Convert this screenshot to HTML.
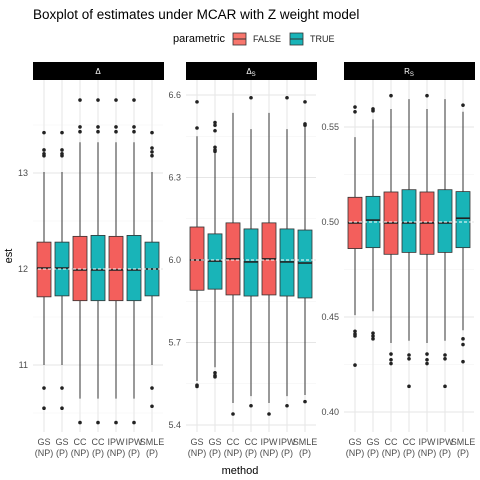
<!DOCTYPE html>
<html><head><meta charset="utf-8"><style>
body{margin:0;background:#fff;}
svg{display:block;font-family:"Liberation Sans",sans-serif;}
</style></head><body>
<svg id="c" width="480" height="480" viewBox="0 0 480 480">
<text x="33" y="19" font-size="13.5" fill="#000">Boxplot of estimates under MCAR with Z weight model</text>
<g>
<text x="173" y="42" font-size="11" fill="#000">parametric</text>
<g><rect x="233" y="33" width="13" height="12" fill="#F8766D" stroke="#333" stroke-width="0.8"/><line x1="233" y1="39" x2="246" y2="39" stroke="#333"/><text x="253" y="42" font-size="9" fill="#222">FALSE</text></g>
<g><rect x="290" y="33" width="13" height="12" fill="#19B4B8" stroke="#333" stroke-width="0.8"/><line x1="290" y1="39" x2="303" y2="39" stroke="#333"/><text x="310" y="42" font-size="9" fill="#222">TRUE</text></g>
</g>
<text x="240" y="474" font-size="11" text-anchor="middle" fill="#000">method</text>
<text transform="translate(12,256) rotate(-90)" font-size="11" text-anchor="middle" fill="#000">est</text>
</svg>
<script>
const categories=["GS (NP)","GS (P)","CC (NP)","CC (P)","IPW (NP)","IPW (P)","SMLE (P)"];
const parametric=[false,true,false,true,false,true,true];
const panelTitles=["Δ","ΔS","RS"];
const truth=[12,6.0,0.5];
const statsDelta=[[11.0,11.71,12.01,12.28,13.01],[11.0,11.72,12.01,12.28,13.01],[10.65,11.67,11.99,12.34,13.32],[10.65,11.67,11.99,12.35,13.32],[10.65,11.67,11.99,12.34,13.32],[10.65,11.67,11.99,12.35,13.32],[11.0,11.72,12.0,12.28,13.01]];
const outDelta=[[13.42,13.24,13.2,13.18,10.76,10.55],[13.42,13.24,13.2,13.18,10.76,10.55],[13.76,13.48,13.43,10.4],[13.76,13.48,13.43,10.4],[13.76,13.48,13.43,10.4],[13.76,13.48,13.43,10.4],[13.42,13.26,13.22,13.18,10.76,10.57]];
const statsDeltaS=[[5.56,5.89,6.0,6.12,6.45],[5.61,5.894,5.996,6.095,6.393],[5.48,5.873,6.004,6.135,6.535],[5.505,5.869,5.993,6.113,6.476],[5.48,5.873,6.004,6.135,6.535],[5.505,5.869,5.993,6.113,6.476],[5.509,5.862,5.989,6.109,6.484]];
const outDeltaS=[[6.575,6.48,5.545,5.54],[6.5,6.49,6.47,6.41,6.4,6.395,5.59,5.58,5.575],[5.44],[6.59,5.47],[5.44],[6.59,5.47],[6.575,6.495,6.49,5.485]];
const statsRS=[[0.451,0.486,0.4995,0.513,0.5447],[0.453,0.4865,0.501,0.5135,0.554],[0.4363,0.483,0.4995,0.5158,0.5595],[0.4375,0.484,0.4995,0.517,0.5647],[0.4363,0.483,0.4995,0.5158,0.5595],[0.4375,0.484,0.4995,0.517,0.5647],[0.443,0.4865,0.502,0.516,0.558]];
const outRS=[[0.5605,0.558,0.4425,0.441,0.44,0.4247],[0.5595,0.5585,0.4415,0.44,0.4385],[0.5665,0.4305,0.4275,0.4255],[0.43,0.428,0.4135],[0.5665,0.4305,0.4275,0.4255],[0.43,0.428,0.4135],[0.5615,0.4385,0.4355,0.4265]];
const ticksDelta=[11,12,13], ticksDeltaS=[5.4,5.7,6.0,6.3,6.6], ticksRS=[0.40,0.45,0.50,0.55];
const tickLabelsDelta=["11","12","13"], tickLabelsDeltaS=["5.4","5.7","6.0","6.3","6.6"], tickLabelsRS=["0.40","0.45","0.50","0.55"];

const NS="http://www.w3.org/2000/svg";
const svg=document.getElementById('c');
function mk(t,a,p){const e=document.createElementNS(NS,t);for(const k in a)e.setAttribute(k,a[k]);(p||svg).appendChild(e);return e;}
const panels=[
 {x0:33,stats:statsDelta,outs:outDelta,ticks:ticksDelta,labels:tickLabelsDelta,yA:12,pA:269,sc:96},
 {x0:186,stats:statsDeltaS,outs:outDeltaS,ticks:ticksDeltaS,labels:tickLabelsDeltaS,yA:6.0,pA:260,sc:275},
 {x0:344,stats:statsRS,outs:outRS,ticks:ticksRS,labels:tickLabelsRS,yA:0.5,pA:222,sc:1900}
];
const pTop=80,pBot=432,W=130;
panels.forEach((P,pi)=>{
 const g=mk('g',{});
 
 
 const y=v=>P.pA-(v-P.yA)*P.sc;
 const x=i=>P.x0+11+i*18;
 const step=P.ticks[1]-P.ticks[0];
 for(let k=-1;k<P.ticks.length+1;k++){
   const v=P.ticks[0]+(k+0.5)*step; const yy=y(v);
   if(yy>pTop&&yy<pBot){const l=mk('line',{x1:P.x0,x2:P.x0+W,y1:yy,y2:yy,stroke:'#f2f2f2','stroke-width':0.6},g);
   
   }
 }
 P.ticks.forEach((v,k)=>{const yy=y(v);
   const l=mk('line',{x1:P.x0,x2:P.x0+W,y1:yy,y2:yy,stroke:'#e6e6e6','stroke-width':1},g);
   
   
   const t=mk('text',{x:P.x0-5,y:yy+3,'font-size':9,'text-anchor':'end',fill:'#4d4d4d'},g);t.textContent=P.labels[k];
   
   });
 categories.forEach((c,i)=>{
   const l=mk('line',{x1:x(i),x2:x(i),y1:pTop,y2:pBot,stroke:'#e6e6e6','stroke-width':1},g);
   
   
   const parts=c.split(' ');
   const t=mk('text',{x:x(i),y:445,'font-size':9,'text-anchor':'middle',fill:'#4d4d4d'},g);
   
   
   parts.forEach((p,j)=>{const s=mk('tspan',{x:x(i),dy:j?11:0},t);s.textContent=p;});
 });
 const s=mk('rect',{x:P.x0,y:62,width:W+1,height:18,fill:'#000'},g);
 
 
 const st=mk('text',{x:P.x0+W/2,y:74,'font-size':8,'text-anchor':'middle',fill:'#fff'},g);
 
 
 const tt=panelTitles[pi];st.textContent=tt[0];
 if(tt.length>1){const sub=mk('tspan',{'font-size':6,dy:2},st);sub.textContent=tt[1];}
 P.stats.forEach((s5,i)=>{
   const bg=mk('g',{},g);
   
   
   const cx=x(i),hw=7;
   mk('line',{x1:cx,x2:cx,y1:y(s5[4]),y2:y(s5[3]),stroke:'#333','stroke-width':1},bg);
   mk('line',{x1:cx,x2:cx,y1:y(s5[1]),y2:y(s5[0]),stroke:'#333','stroke-width':1},bg);
   mk('rect',{x:cx-hw,y:y(s5[3]),width:2*hw,height:y(s5[1])-y(s5[3]),fill:parametric[i]?'#19B4B8':'#F35F5C',stroke:'#333','stroke-width':0.8},bg);
   mk('line',{x1:cx-hw,x2:cx+hw,y1:y(s5[2]),y2:y(s5[2]),stroke:'#222','stroke-width':1.6},bg);
   P.outs[i].forEach(v=>mk('circle',{cx:cx,cy:y(v),r:1.8,fill:'#222'},bg));
 });
 const tl=mk('line',{x1:P.x0,x2:P.x0+W,y1:y(truth[pi]),y2:y(truth[pi]),stroke:'#fff','stroke-width':0.9,'stroke-dasharray':'3,2'},g);
 
 
});
</script>
</body></html>
